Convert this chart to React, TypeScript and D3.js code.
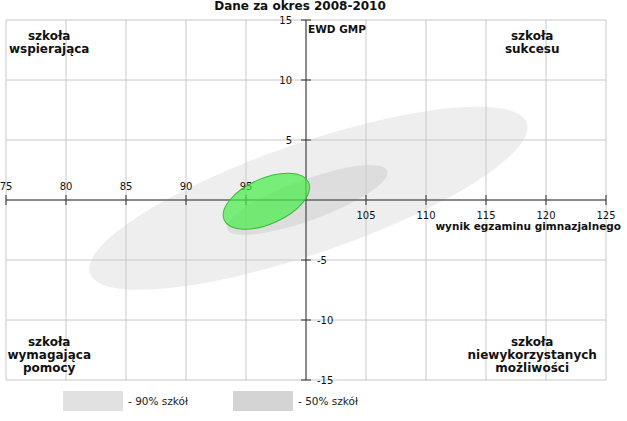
import React from "react";
import * as d3 from "d3";

const title = "Dane za okres 2008-2010";
const xTicks = [75, 80, 85, 90, 95, 100, 105, 110, 115, 120, 125];
const yTicks = [-15, -10, -5, 0, 5, 10, 15];
const xAxisTitle = "wynik egzaminu gimnazjalnego";
const yAxisTitle = "EWD GMP";

// ellipses: [cx, cy, semi-major, semi-minor, angle deg]
const ellipse90 = { cx: 100.2, cy: 0.15, a: 19.25, b: 4.6, angle: 19 };
const ellipse50 = { cx: 100.1, cy: 0.0, a: 7.1, b: 1.7, angle: 20 };
const schoolEllipse = { cx: 96.7, cy: -0.1, a: 3.85, b: 1.9, angle: 24 };

const quadrants = [
  { lines: ["szkoła", "wspierająca"], qx: 78.6, qy: 13.7 },
  { lines: ["szkoła", "sukcesu"], qx: 118.85, qy: 13.7 },
  { lines: ["szkoła", "wymagająca", "pomocy"], qx: 78.6, qy: -11.83 },
  { lines: ["szkoła", "niewykorzystanych", "możliwości"], qx: 118.85, qy: -11.83 },
];

const legendItems = [
  { label: "- 90% szkół", color: "#e1e1e1" },
  { label: "- 50% szkół", color: "#d4d4d4" },
];

const W = 627;
const H = 421;
const FONT = "'DejaVu Sans', sans-serif";

export default function App() {
  const x = d3.scaleLinear().domain([75, 125]).range([6, 606]);
  const y = d3.scaleLinear().domain([-15, 15]).range([380, 20]);
  const x0 = x(100);
  const y0 = y(0);
  const unit = x(1) - x(0);

  const ell = (e: any, fill: string, extra: any = {}) => (
    <ellipse
      cx={0}
      cy={0}
      rx={e.a * unit}
      ry={e.b * unit}
      transform={`translate(${x(e.cx)},${y(e.cy)}) rotate(${-e.angle})`}
      fill={fill}
      {...extra}
    />
  );

  return (
    <svg
      width={W}
      height={H}
      style={{ position: "absolute", left: 0, top: 0, background: "#fff" }}
      fontFamily={FONT}
    >
      <rect x={0} y={0} width={W} height={H} fill="#fff" />
      <text x={300} y={10} textAnchor="middle" fontSize={12} fontWeight="bold" fill="#111">
        {title}
      </text>

      {ell(ellipse90, "#eeeeee")}
      {ell(ellipse50, "#dddddd")}

      {/* grid */}
      {xTicks.map((t) => (
        <line key={"gx" + t} x1={x(t)} x2={x(t)} y1={y(-15)} y2={y(15)} stroke="#c8c8c8" strokeWidth={1} />
      ))}
      {yTicks.map((t) => (
        <line key={"gy" + t} x1={x(75)} x2={x(125)} y1={y(t)} y2={y(t)} stroke="#c8c8c8" strokeWidth={1} />
      ))}

      {/* axes */}
      <line x1={x(75)} x2={x(125)} y1={y0} y2={y0} stroke="#333" strokeWidth={1} />
      <line x1={x0} x2={x0} y1={y(-15)} y2={y(15)} stroke="#333" strokeWidth={1} />
      {xTicks.filter((t) => t !== 100).map((t) => (
        <g key={"xt" + t}>
          <line x1={x(t)} x2={x(t)} y1={y0 - 5} y2={y0 + 5} stroke="#333" />
          <text
            x={x(t)}
            y={t < 100 ? y0 - 10 : y0 + 19}
            textAnchor="middle"
            fontSize={10}
            fill="#111"
          >
            {t}
          </text>
        </g>
      ))}
      {yTicks.filter((t) => t !== 0).map((t) => (
        <g key={"yt" + t}>
          <line x1={x0 - 5} x2={x0 + 5} y1={y(t)} y2={y(t)} stroke="#333" />
          <text
            x={t > 0 ? x0 - 14 : x0 + 11}
            y={y(t) + 4}
            textAnchor={t > 0 ? "end" : "start"}
            fontSize={10}
            fill="#111"
          >
            {t}
          </text>
        </g>
      ))}

      {ell(schoolEllipse, "#44ee44", { fillOpacity: 0.7, stroke: "#3cb83c", strokeWidth: 1 })}

      <text x={x0 + 2} y={33} fontSize={10.5} fontWeight="bold" fill="#111">
        {yAxisTitle}
      </text>
      <text x={621} y={230} textAnchor="end" fontSize={10.5} fontWeight="bold" fill="#111">
        {xAxisTitle}
      </text>

      {quadrants.map((q, i) => (
        <text key={"q" + i} textAnchor="middle" fontSize={12} fontWeight="bold" fill="#111">
          {q.lines.map((l, j) => (
            <tspan key={j} x={x(q.qx)} y={y(q.qy) + 4.5 + j * 13}>
              {l}
            </tspan>
          ))}
        </text>
      ))}

      {legendItems.map((it, i) => (
        <g key={"lg" + i}>
          <rect x={63 + i * 170} y={391} width={60} height={20} fill={it.color} />
          <text x={128 + i * 170} y={405} fontSize={10.5} fill="#222">
            {it.label}
          </text>
        </g>
      ))}
    </svg>
  );
}
